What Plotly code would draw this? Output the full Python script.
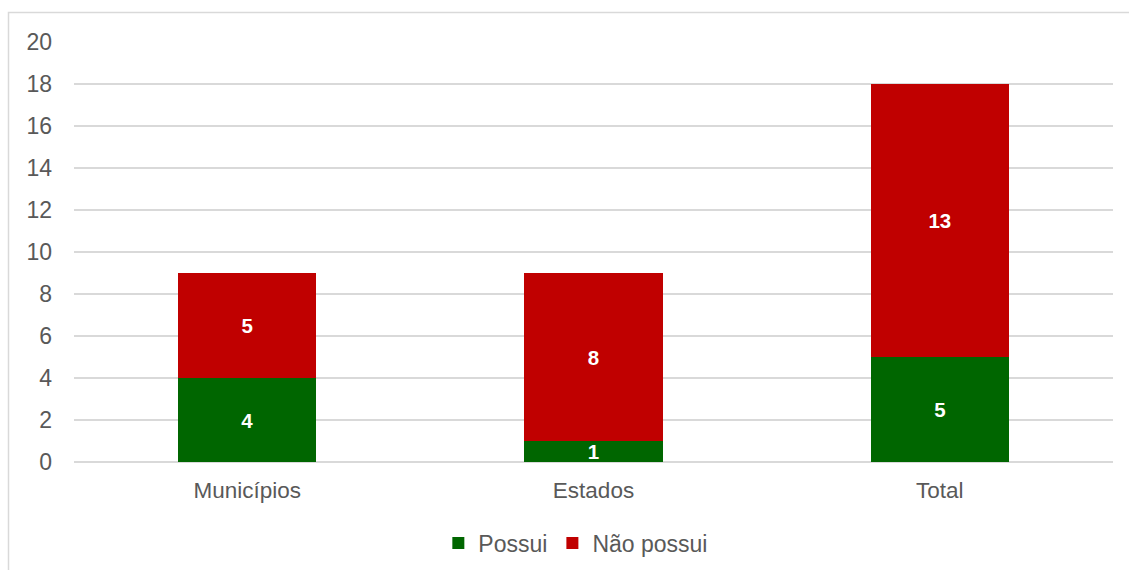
import plotly.graph_objects as go

categories = ["Municípios", "Estados", "Total"]
possui = [4, 1, 5]
nao_possui = [5, 8, 13]
y_ticks = [0, 2, 4, 6, 8, 10, 12, 14, 16, 18, 20]

FONT = "Liberation Sans, Arial, sans-serif"
GREY = "#595959"
LABEL_FONT = dict(color="white", size=20.5, family=FONT, weight="bold")

fig = go.Figure()
fig.add_trace(go.Bar(
    x=categories, y=possui, name="Possui",
    marker=dict(color="#006600", line=dict(width=0)),
    text=[str(v) for v in possui], textposition="inside",
    insidetextanchor="middle", textangle=0, constraintext="none",
    textfont=LABEL_FONT, width=0.4,
))
fig.add_trace(go.Bar(
    x=categories, y=nao_possui, name="Não possui",
    marker=dict(color="#C00000", line=dict(width=0)),
    text=[str(v) for v in nao_possui], textposition="inside",
    insidetextanchor="middle", textangle=0, constraintext="none",
    textfont=LABEL_FONT, width=0.4,
))

fig.update_layout(
    barmode="stack",
    width=1129, height=570,
    margin=dict(l=74, r=16, t=42, b=108, autoexpand=False),
    paper_bgcolor="white", plot_bgcolor="white",
    font=dict(family=FONT, size=23, color=GREY),
    showlegend=True,
    legend=dict(orientation="h", x=0.483, xanchor="center", y=-0.193, yanchor="middle",
                font=dict(size=23, color=GREY), itemwidth=30, traceorder="normal"),
    uniformtext=dict(mode="show", minsize=10),
    xaxis=dict(showgrid=False, showline=False, ticks="", ticklabelstandoff=12,
               tickfont=dict(size=22.5, color=GREY)),
    yaxis=dict(range=[0, 20], tickvals=y_ticks, showgrid=True, gridcolor="#d9d9d9",
               gridwidth=1.5, zeroline=True, zerolinecolor="#d9d9d9", zerolinewidth=1.5,
               showline=False, ticks="", ticklabelstandoff=21,
               tickfont=dict(size=23, color=GREY)),
)

# thin light frame around the chart area
fig.add_shape(type="rect", xref="paper", yref="paper",
              x0=(8.5 - 74) / 1039, x1=(1140 - 74) / 1039,
              y0=(462 - 580) / 420, y1=(462 - 12.5) / 420,
              line=dict(color="#d9d9d9", width=1.5), fillcolor="rgba(0,0,0,0)", layer="below")

fig.write_html("out.html")
